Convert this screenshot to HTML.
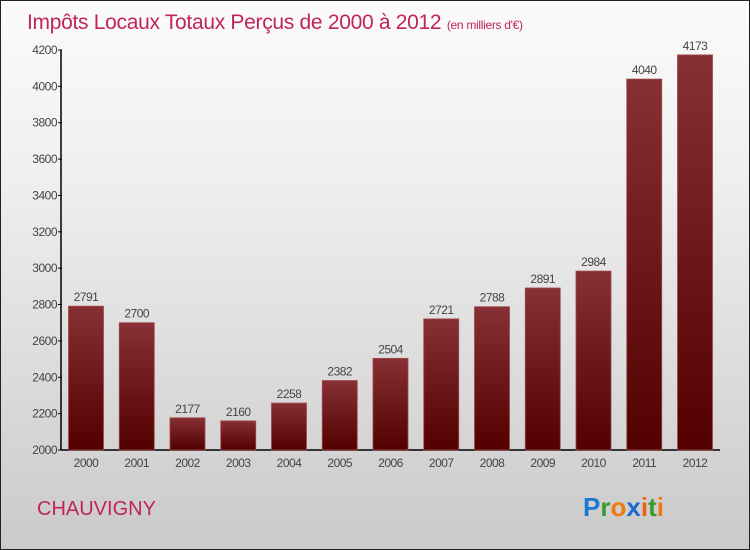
<!DOCTYPE html>
<html><head><meta charset="utf-8"><style>
body{margin:0}
#c{width:748px;height:548px;border:1px solid #222;background:linear-gradient(#fbfbfb,#f0f0f0 30%,#cacaca);position:relative;overflow:hidden;font-family:"Liberation Sans",sans-serif}
</style></head><body>
<div id="c">
<svg width="748" height="548">
<defs><linearGradient id="g" x1="0" y1="0" x2="0" y2="1"><stop offset="0" stop-color="#873035"/><stop offset="1" stop-color="#520000"/></linearGradient></defs>
<text x="26" y="28" font-size="21" font-weight="300" fill="#c0245a" letter-spacing="-0.3">Impôts Locaux Totaux Perçus de 2000 à 2012 <tspan font-size="12">(en milliers d'€)</tspan></text>
<g id="plot"></g>
<text x="36" y="514" font-size="20" fill="#c0245a">CHAUVIGNY</text>
<text x="582" y="515" font-size="26" font-weight="bold"><tspan fill="#1a7ad0">P</tspan><tspan fill="#3a9a30">r</tspan><tspan fill="#f07a10">o</tspan><tspan fill="#1a6ad0">x</tspan><tspan fill="#f06010">i</tspan><tspan fill="#3a9a30">t</tspan><tspan fill="#f07a10">i</tspan></text>
</svg></div>
<script>
const categories=["2000","2001","2002","2003","2004","2005","2006","2007","2008","2009","2010","2011","2012"];
const values=[2791,2700,2177,2160,2258,2382,2504,2721,2788,2891,2984,4040,4173];
const yTicks=[2000,2200,2400,2600,2800,3000,3200,3400,3600,3800,4000,4200];
const ns="http://www.w3.org/2000/svg",p=document.getElementById("plot");
const y=v=>449-(v-2000)*(400/2200), x=i=>85+i*50.75;
function mk(t,a,txt){const e=document.createElementNS(ns,t);for(const k in a)e.setAttribute(k,a[k]);if(txt!=null)e.textContent=txt;p.appendChild(e);return e;}
let e=mk("line",{x1:60,y1:49,x2:60,y2:449,stroke:"#000","stroke-width":1.5});


e=mk("line",{x1:60,y1:449,x2:719,y2:449,stroke:"#000","stroke-width":1.5});


yTicks.forEach(v=>{
 mk("line",{x1:57,x2:61,y1:y(v),y2:y(v),stroke:"#000"});
 e=mk("text",{x:56,y:y(v)+4,"font-size":12,"text-anchor":"end",fill:"#444","letter-spacing":"-0.5"},v);
 
 
});
categories.forEach((c,i)=>{
 const v=values[i];
 e=mk("rect",{x:x(i)-17.5,y:y(v),width:35,height:449-y(v),fill:"url(#g)",stroke:"#a04848","stroke-width":0.8});
 
 
 e=mk("text",{x:x(i),y:y(v)-5,"font-size":12,"text-anchor":"middle",fill:"#444","letter-spacing":"-0.5"},v);
 
 
 e=mk("text",{x:x(i),y:466,"font-size":12,"text-anchor":"middle",fill:"#444","letter-spacing":"-0.5"},c);
 
 
});
</script>
</body></html>
